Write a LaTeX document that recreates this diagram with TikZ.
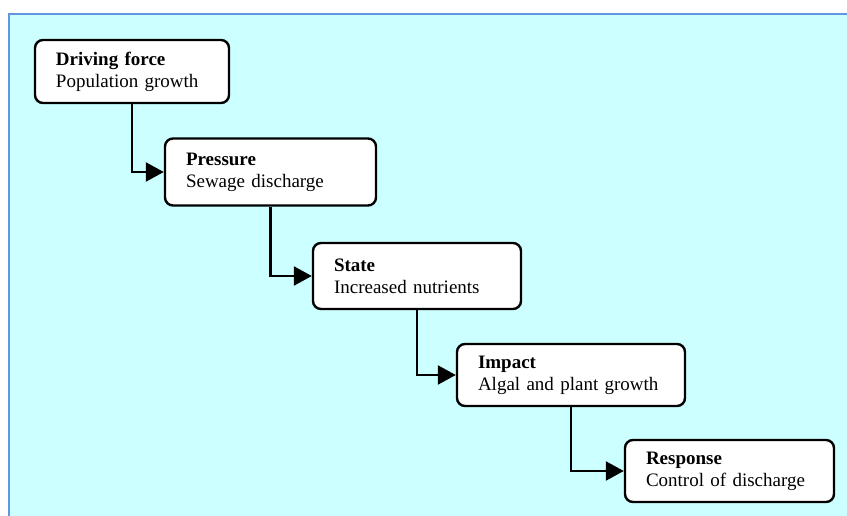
\documentclass[tikz,border=0pt]{standalone}
\usepackage{fontspec}
\setmainfont{Liberation Serif}
\usetikzlibrary{arrows.meta}
\definecolor{bgcyan}{RGB}{204,255,255}
\definecolor{frameblue}{RGB}{100,150,220}
\tikzset{
  stage/.style={draw=black, line width=2.4pt, rounded corners=8pt, fill=white,
    align=left, inner xsep=21pt, inner ysep=0pt,
    font=\fontsize{19}{22}\selectfont},
  link/.style={draw=black, line width=2.4pt, -{Triangle[length=18pt,width=19pt]}}
}
\begin{document}
\begin{tikzpicture}[x=1pt,y=-1pt]
\useasboundingbox (0,0) rectangle (847,516);
\fill[white] (0,0) rectangle (847,516);
\fill[bgcyan] (9,14) rectangle (847,516);
\draw[frameblue, line width=1.5pt] (9,516) -- (9,14) -- (847,14);

\node[stage, text width=152pt, minimum height=63pt] (b1) at (132,71.5)
  {\textbf{Driving force}\\Population growth};
\node[stage, text width=169pt, minimum height=67pt] (b2) at (270.5,172)
  {\textbf{Pressure}\\Sewage discharge};
\node[stage, text width=166pt, minimum height=66pt] (b3) at (417,276)
  {\textbf{State}\\Increased nutrients};
\node[stage, text width=186pt, minimum height=62pt] (b4) at (571,375)
  {\textbf{Impact}\\Algal and plant growth};
\node[stage, text width=167pt, minimum height=62pt] (b5) at (729.5,471)
  {\textbf{Response}\\Control of discharge};

\draw[link] (b1.south) |- (b2.west);
\draw[link] (b2.south) |- (b3.west);
\draw[link] (b3.south) |- (b4.west);
\draw[link] (b4.south) |- (b5.west);
\end{tikzpicture}
\end{document}
